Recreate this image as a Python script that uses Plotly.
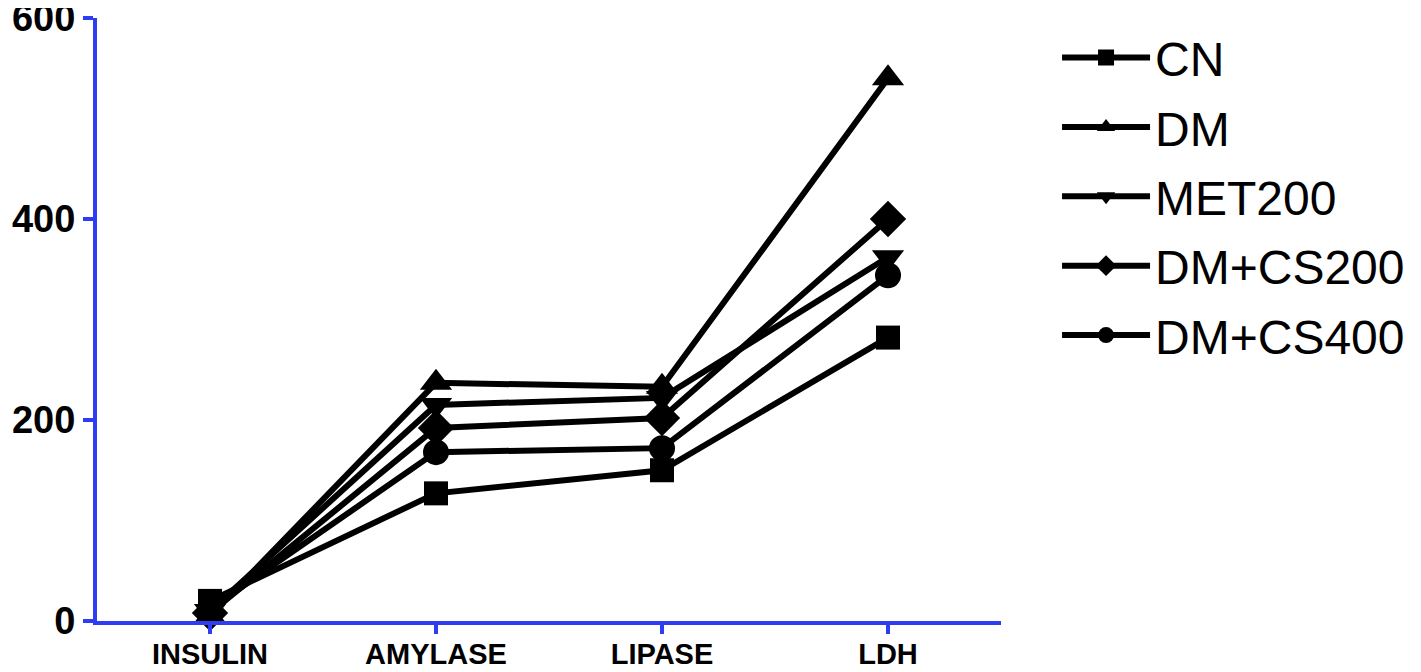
import plotly.graph_objects as go

categories = ["INSULIN", "AMYLASE", "LIPASE", "LDH"]
series_names = ["CN", "DM", "MET200", "DM+CS200", "DM+CS400"]
cn = [20, 127, 150, 282]
dm = [5, 237, 233, 540]
met200 = [10, 215, 222, 362]
dm_cs200 = [8, 192, 202, 400]
dm_cs400 = [12, 168, 172, 344]
y_ticks = [0, 200, 400, 600]

series_values = [cn, dm, met200, dm_cs200, dm_cs400]
symbols = ["square", "triangle-up", "triangle-down", "diamond", "circle"]
sizes = [24, 28, 28, 28, 26]

AXIS_BLUE = "#2f3df2"

fig = go.Figure()
for name, vals, sym, sz in zip(series_names, series_values, symbols, sizes):
    fig.add_trace(go.Scatter(
        x=categories, y=vals, name=name, legendgroup=name, mode="lines+markers",
        line=dict(color="black", width=6),
        marker=dict(symbol=sym, size=sz, color="black"),
        cliponaxis=False,
    ))

fig.update_layout(
    width=1413, height=664,
    margin=dict(l=89, r=420, t=10, b=51),
    plot_bgcolor="white", paper_bgcolor="white",
    font=dict(family="Liberation Sans, Arial, sans-serif", color="black"),
    legend=dict(
        x=1.062, y=0.997, xanchor="left", yanchor="top",
        font=dict(size=48, family="Liberation Sans, Arial, sans-serif", color="black"),
        itemwidth=88, traceorder="grouped", tracegroupgap=4,
        bgcolor="rgba(0,0,0,0)",
    ),
    xaxis=dict(
        type="category", range=[-0.5, 3.5], automargin=False,
        showline=True, linecolor=AXIS_BLUE, linewidth=4,
        ticks="outside", tickcolor=AXIS_BLUE, ticklen=9, tickwidth=4,
        showgrid=False, zeroline=False, ticklabeloverflow="allow",
        ticklabelstandoff=-5,
        tickfont=dict(family="Liberation Sans Narrow, Arial Narrow, Liberation Sans, sans-serif",
                      size=29, color="black", weight="bold"),
    ),
    yaxis=dict(
        range=[0, 600], tickvals=y_ticks, automargin=False,
        showline=True, linecolor=AXIS_BLUE, linewidth=4,
        ticks="outside", tickcolor=AXIS_BLUE, ticklen=10, tickwidth=4,
        showgrid=False, zeroline=False, ticklabeloverflow="allow",
        tickfont=dict(family="Liberation Sans, Arial, sans-serif", size=38,
                      color="black", weight="bold"),
    ),
)

fig.write_html("out.html")
